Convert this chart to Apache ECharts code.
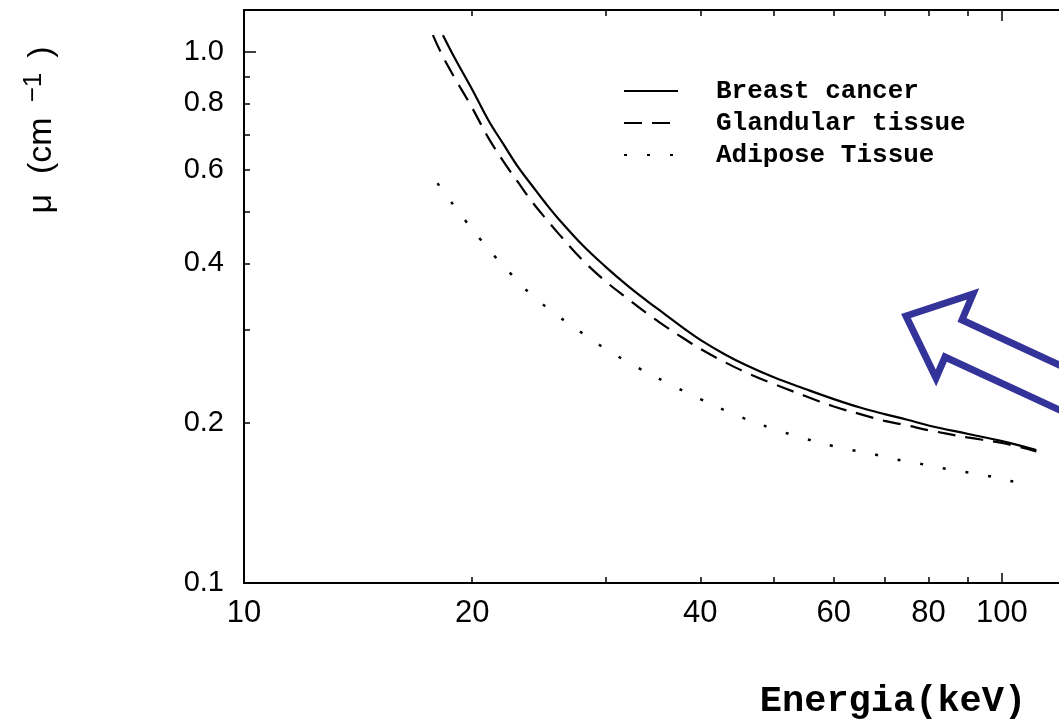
<!DOCTYPE html>
<html><head><meta charset="utf-8">
<script src="https://cdn.jsdelivr.net/npm/echarts@6/dist/echarts.min.js"></script>
<style>html,body{margin:0;padding:0;background:#fff}#c{width:1059px;height:720px}</style>
</head><body><div id="c"></div>
<script>
// Data
const seriesNames = ['Breast cancer', 'Glandular tissue', 'Adipose Tissue'];
const energyCancer = [18.3, 19, 20, 21, 22, 23, 24, 25, 26, 28, 30, 32, 34, 36, 38, 40, 43, 46, 50, 55, 60, 65, 70, 75, 80, 90, 100, 111];
const muCancer     = [1.076, 0.97, 0.85, 0.745, 0.67, 0.607, 0.56, 0.519, 0.485, 0.432, 0.394, 0.364, 0.34, 0.32, 0.302, 0.287, 0.27, 0.257, 0.244, 0.232, 0.222, 0.214, 0.208, 0.203, 0.198, 0.191, 0.185, 0.178];
const energyGland  = [17.75, 18.3, 19, 20, 21, 22, 23, 24, 25, 26, 28, 30, 32, 34, 36, 38, 40, 43, 46, 50, 55, 60, 65, 70, 75, 80, 90, 100, 111];
const muGland      = [1.076, 0.98, 0.89, 0.785, 0.69, 0.622, 0.568, 0.522, 0.486, 0.455, 0.405, 0.37, 0.344, 0.322, 0.304, 0.289, 0.276, 0.261, 0.249, 0.237, 0.225, 0.215, 0.208, 0.202, 0.198, 0.194, 0.188, 0.1835, 0.177];
const energyAdipose = [18, 18.8, 19.6, 20.5, 21.4, 22.5, 24, 26, 28, 30, 33, 36, 40, 45, 50, 55, 60, 63.3, 67.7, 72.4, 77.5, 83, 89, 95.4, 102.3, 109.8];
const muAdipose     = [0.566, 0.52, 0.481, 0.444, 0.413, 0.382, 0.348, 0.318, 0.295, 0.276, 0.255, 0.239, 0.222, 0.206, 0.195, 0.187, 0.181, 0.178, 0.1748, 0.171, 0.168, 0.1647, 0.162, 0.1593, 0.1558, 0.1534];
const xTickLabels = [10, 20, 40, 60, 80, 100];
const xTickMarks  = [20, 30, 40, 50, 60, 70, 80, 90, 100];
const xMajorMarks = [100];
const yTickLabels = [0.1, 0.2, 0.4, 0.6, 0.8, 1.0];
const yTickMarks  = [0.2, 0.3, 0.4, 0.5, 0.6, 0.7, 0.8, 0.9, 1.0];
const yMajorMarks = [1.0];

const pairs = (xs, ys) => xs.map((x, i) => [x, ys[i]]);

const chart = echarts.init(document.getElementById('c'), null, {renderer: 'canvas'});
const axisLine = {show: true, lineStyle: {color: '#000', width: 2}};
const tickStyle = {color: '#000', width: 1.5};
const xBase = {type: 'log', logBase: 10, min: 10, max: 120, splitLine: {show: false}};
const yBase = {type: 'log', logBase: 10, min: 0.1, max: 1.2, splitLine: {show: false}};
const clear = 'rgba(0,0,0,0)';

chart.setOption({
  animation: false,
  backgroundColor: '#fff',
  grid: {left: 244, top: 10, width: 818, height: 573, containLabel: false, outerBoundsMode: 'none'},
  legend: {
    orient: 'vertical', left: 618, top: 73,
    itemWidth: 54, itemHeight: 14, itemGap: 6,
    data: seriesNames,
    itemStyle: {color: clear, borderWidth: 0},
    textStyle: {fontFamily: 'Liberation Mono', fontWeight: 'bold', fontSize: 26, color: '#000', padding: [0, 0, 0, 33]}
  },
  xAxis: [Object.assign({}, xBase, {
    position: 'bottom',
    axisLine: axisLine,
    axisTick: {show: true, inside: true, length: 6, lineStyle: tickStyle, customValues: xTickMarks},
    axisLabel: {customValues: xTickLabels, fontFamily: 'Liberation Sans', fontSize: 31, color: '#000', margin: 15},
    name: 'Energia(keV)', nameLocation: 'middle', nameGap: 100,
    nameTextStyle: {fontFamily: 'Liberation Mono', fontWeight: 'bold', fontSize: 37, color: '#000', padding: [0, 0, 0, 480]}
  }), Object.assign({}, xBase, {
    position: 'top',
    axisLine: axisLine,
    axisTick: {show: true, inside: true, length: 6, lineStyle: tickStyle, customValues: xTickMarks},
    axisLabel: {show: false}
  }), Object.assign({}, xBase, {
    position: 'bottom',
    axisLine: {show: false},
    axisTick: {show: true, inside: true, length: 10, lineStyle: tickStyle, customValues: xMajorMarks},
    axisLabel: {show: false}
  }), Object.assign({}, xBase, {
    position: 'top',
    axisLine: {show: false},
    axisTick: {show: true, inside: true, length: 11, lineStyle: tickStyle, customValues: xMajorMarks},
    axisLabel: {show: false}
  })],
  yAxis: [Object.assign({}, yBase, {
    axisLine: axisLine,
    axisTick: {show: true, inside: true, length: 6, lineStyle: tickStyle, customValues: yTickMarks},
    axisLabel: {customValues: yTickLabels, formatter: v => Number(v).toFixed(1), fontFamily: 'Liberation Sans', fontSize: 29, color: '#000', margin: 20},
    name: '{m|μ}{a|(cm}{s|−1}{a|)}', nameLocation: 'middle', nameRotate: 90, nameGap: 181,
    nameTextStyle: {padding: [0, 0, 0, 333], rich: {
      m: {fontFamily: 'Liberation Sans', fontSize: 34, color: '#000', lineHeight: 42, padding: [0, 20, 0, 0]},
      a: {fontFamily: 'Liberation Sans', fontSize: 34, color: '#000', lineHeight: 42},
      s: {fontFamily: 'Liberation Sans', fontSize: 26, color: '#000', verticalAlign: 'top', lineHeight: 26, padding: [0, 15, 0, 15]}
    }}
  }), Object.assign({}, yBase, {
    position: 'left',
    axisLine: {show: false},
    axisTick: {show: true, inside: true, length: 12, lineStyle: tickStyle, customValues: yMajorMarks},
    axisLabel: {show: false}
  })],
  series: [{
    name: seriesNames[0], type: 'line', smooth: 0.4, symbol: 'none',
    data: pairs(energyCancer, muCancer),
    lineStyle: {color: '#000', width: 2.2, type: 'solid'}, itemStyle: {color: clear}
  }, {
    name: seriesNames[1], type: 'line', smooth: 0.4, symbol: 'none',
    data: pairs(energyGland, muGland),
    lineStyle: {color: '#000', width: 2.2, type: [18, 10]}, itemStyle: {color: clear}
  }, {
    name: seriesNames[2], type: 'line', smooth: 0.4, symbol: 'none',
    data: pairs(energyAdipose, muAdipose),
    lineStyle: {color: '#000', width: 2.5, type: [3, 20]}, itemStyle: {color: clear}
  }],
  graphic: [{
    type: 'polygon',
    shape: {points: [[906, 316], [973, 294], [962, 320], [1120, 393], [1120, 438], [945, 357], [936, 378]]},
    style: {fill: 'none', stroke: '#333399', lineWidth: 7, lineJoin: 'miter'},
    z: 10
  }]
});
</script>
</body></html>
